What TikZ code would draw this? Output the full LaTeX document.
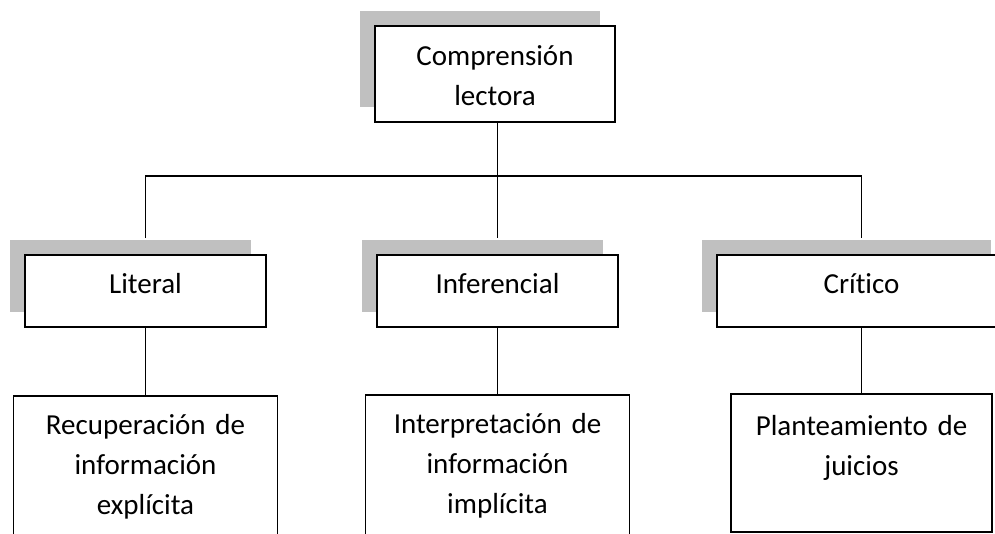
\documentclass[tikz,border=0pt]{standalone}
\usepackage{fontspec}
\setmainfont{Carlito}[Ligatures=NoCommon]
\usepackage{tikz}
\usetikzlibrary{positioning,shadows}
\definecolor{shadowgray}{RGB}{192,192,192}

\begin{document}
\begin{tikzpicture}[
    x=1pt, y=-1pt,
    box/.style={rectangle, draw, line width=1.8pt, fill=white, inner sep=0pt, align=center, text height=40pt, font=\fontsize{29}{40}\selectfont},
    shadowed/.style={box, drop shadow={shadow xshift=-15pt, shadow yshift=15pt, fill=shadowgray, opacity=1}},
    link/.style={line width=1.8pt}
]
\useasboundingbox (0,0) rectangle (995,533);

\node[shadowed, anchor=north, text width=240pt, text depth=56pt] (comp) at (495,25) {Comprensión\\lectora};

\node[shadowed, anchor=north, text width=241pt, text height=39pt, text depth=33pt] (lit) at (145.5,254) {Literal};
\node[shadowed, anchor=north, text width=241pt, text height=39pt, text depth=33pt] (inf) at (497.5,254) {Inferencial};
\node[shadowed, anchor=north, text width=289pt, text height=39pt, text depth=33pt] (crit) at (861.5,254) {Crítico};

\node[box, below=67pt of lit, text width=264pt, text height=39pt, text depth=111pt] (recup) {Recuperación de\\información\\explícita};
\node[box, below=66pt of inf, text width=264pt, text height=39pt, text depth=111pt] (interp) {Interpretación de\\información\\implícita};
\node[box, below=65pt of crit, text width=261pt, text height=42pt, text depth=96pt] (juic) {Planteamiento de\\juicios};

\coordinate (bar) at (497,176);
\draw[link] (comp.south -| inf.north) -- ([yshift=16pt]inf.north);
\draw[link] ([yshift=16pt]lit.north) |- (bar) -| ([yshift=16pt]crit.north);
\draw[link] (lit.south) -- (recup.north);
\draw[link] (inf.south) -- (interp.north);
\draw[link] (crit.south) -- (juic.north);
\end{tikzpicture}
\end{document}
